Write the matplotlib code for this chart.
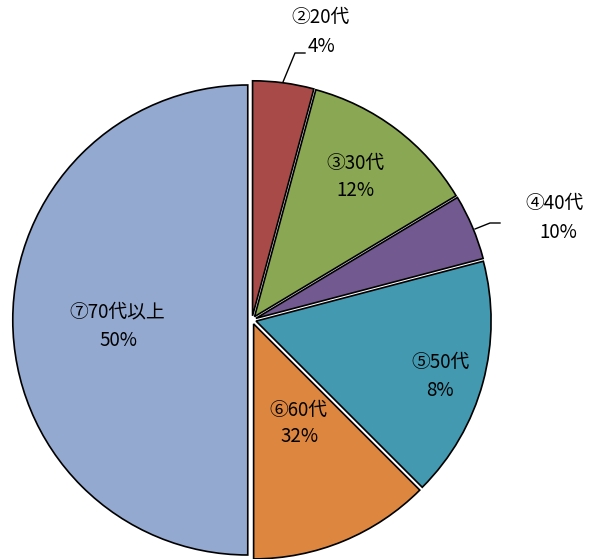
import matplotlib.pyplot as plt

plt.rcParams['font.family'] = ['Noto Sans CJK JP', 'DejaVu Sans']

# slice sizes and the printed labels
names = ['②20代', '③30代', '④40代', '⑤50代', '⑥60代', '⑦70代以上']
sizes = [4.2, 12.2, 4.5, 16.6, 12.5, 50.0]
pct_labels = ['4%', '12%', '10%', '8%', '32%', '50%']
colors = ['#A84B48', '#8AA753', '#725A91', '#4299B0', '#DD8640', '#93A9CF']

fig = plt.figure(figsize=(5.98, 5.59), dpi=100)
ax = fig.add_axes([0, 0, 1, 1])

# pie centre in pixels and radius in pixels
cx, cy, R = 252, 320, 235

ax.pie(sizes, startangle=90, counterclock=False, colors=colors,
       explode=[0.018] * len(sizes), radius=1.0,
       wedgeprops=dict(edgecolor='black', linewidth=1.2))
ax.set_xlim(-cx / R, (598 - cx) / R)
ax.set_ylim(-(559 - cy) / R, cy / R)
ax.set_aspect('auto')
ax.axis('off')


def px(x, y):
    return (x - cx) / R, (cy - y) / R


# label positions in pixels: name (x, y), pct (x, y)
name_pos = [(320, 17), (355, 163), (555, 203), (441, 362), (298, 410), (117, 312)]
pct_pos = [(321, 47), (355, 191), (558, 233), (440, 390), (300, 437), (118, 341)]

for i in range(len(names)):
    ax.text(*px(*name_pos[i]), names[i], ha='center', va='center', fontsize=13.5)
    ax.text(*px(*pct_pos[i]), pct_labels[i], ha='center', va='center', fontsize=13.5)

# leader lines
ax.plot(*zip(px(283, 82), px(295, 53), px(305, 53)), color='black', lw=1)
ax.plot(*zip(px(475, 229), px(490, 223), px(500, 223)), color='black', lw=1)

fig.savefig('out.png', dpi=100)
